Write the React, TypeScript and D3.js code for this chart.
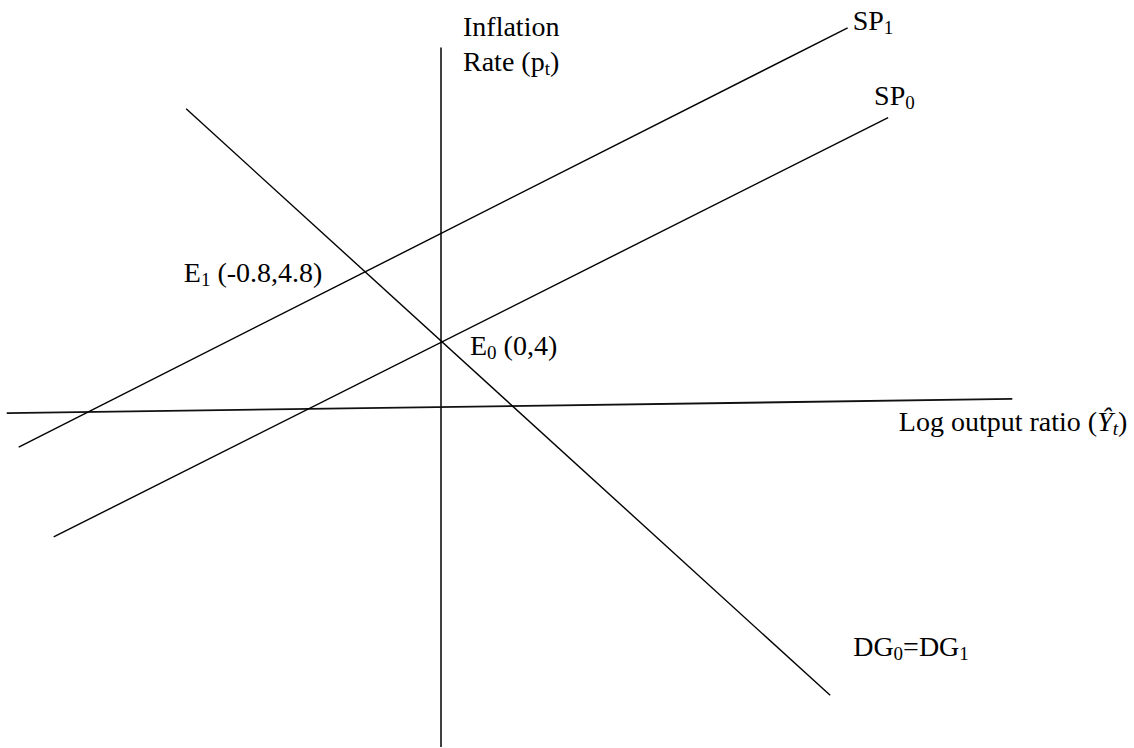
import * as d3 from 'd3';
import { useEffect, useRef } from 'react';

// Schematic SP / DG diagram, values in (log output ratio, inflation) units
const verticalAxis: [number, number][] = [[0, 7.31], [0, -0.55]];
const horizontalAxis: [number, number][] = [[-4.72, 3.2], [6.21, 3.36]];
const sp1Line: [number, number][] = [[-4.59, 2.82], [4.42, 7.53]];
const sp0Line: [number, number][] = [[-4.21, 1.81], [4.86, 6.52]];
const dgLine: [number, number][] = [[-2.77, 6.62], [4.23, 0.03]];
const e0Point: [number, number] = [0, 4];
const e1Point: [number, number] = [-0.8, 4.8];

const WIDTH = 1134;
const HEIGHT = 748;
const FONT = '"Liberation Serif", "Times New Roman", serif';

export default function App() {
  const svgRef = useRef<SVGSVGElement>(null);

  useEffect(() => {
    if (!svgRef.current) return;
    const svg = d3.select(svgRef.current);
    svg.selectAll('*').remove();

    const x = d3.scaleLinear().domain([-5, 7]).range([-19, 1085]);
    const y = d3.scaleLinear().domain([0, 8]).range([698, -14]);

    const line = d3
      .line<[number, number]>()
      .x((d) => x(d[0]))
      .y((d) => y(d[1]));

    // axes
    svg
      .append('path')
      .attr('d', line(verticalAxis))
      .attr('stroke', '#111')
      .attr('stroke-width', 1.6)
      .attr('fill', 'none');
    svg
      .append('path')
      .attr('d', line(horizontalAxis))
      .attr('stroke', '#111')
      .attr('stroke-width', 1.8)
      .attr('fill', 'none');

    // curves
    [sp1Line, sp0Line, dgLine].forEach((pts) => {
      svg
        .append('path')
        .attr('d', line(pts))
        .attr('stroke', '#000')
        .attr('stroke-width', 1.4)
        .attr('fill', 'none');
    });

    const g = svg.append('g').attr('font-family', FONT).attr('font-size', 28).attr('fill', '#000');

    // helper: label with main text + subscript pieces
    const addLabel = (
      px: number,
      py: number,
      parts: { t: string; sub?: boolean; italic?: boolean }[],
      anchor = 'start'
    ) => {
      const text = g.append('text').attr('x', px).attr('y', py).attr('text-anchor', anchor);
      let shifted = false;
      parts.forEach((p) => {
        const ts = text.append('tspan').text(p.t);
        if (p.sub && !shifted) {
          ts.attr('dy', 4).attr('font-size', 19);
          shifted = true;
        } else if (p.sub) {
          ts.attr('font-size', 19);
        } else if (shifted) {
          ts.attr('dy', -4);
          shifted = false;
        }
        if (p.italic) ts.attr('font-style', 'italic');
      });
      return text;
    };

    // vertical axis title
    const [vx, vy] = [x(verticalAxis[0][0]), y(verticalAxis[0][1])];
    addLabel(vx + 22, vy - 11, [{ t: 'Inflation' }]);
    addLabel(vx + 22, vy + 24, [{ t: 'Rate (p' }, { t: 't', sub: true }, { t: ')' }]);

    // horizontal axis title, right-aligned near the window edge
    const [hx, hy] = [x(horizontalAxis[1][0]), y(horizontalAxis[1][1])];
    addLabel(
      hx + 115,
      hy + 32,
      [{ t: 'Log output ratio (' }, { t: 'Ŷ', italic: true }, { t: 't', sub: true, italic: true }, { t: ')' }],
      'end'
    );

    // curve labels
    addLabel(x(sp1Line[1][0]) + 5, y(sp1Line[1][1]) + 2, [{ t: 'SP' }, { t: '1', sub: true }]);
    addLabel(x(sp0Line[1][0]) - 14, y(sp0Line[1][1]) - 13, [{ t: 'SP' }, { t: '0', sub: true }]);
    addLabel(x(dgLine[1][0]) + 23, y(dgLine[1][1]) - 39, [
      { t: 'DG' },
      { t: '0', sub: true },
      { t: '=DG' },
      { t: '1', sub: true },
    ]);

    // equilibrium labels
    addLabel(x(e0Point[0]) + 29, y(e0Point[1]) + 13, [{ t: 'E' }, { t: '0', sub: true }, { t: ' (0,4)' }]);
    addLabel(
      x(e1Point[0]) - 45,
      y(e1Point[1]) + 11,
      [{ t: 'E' }, { t: '1', sub: true }, { t: ' (-0.8,4.8)' }],
      'end'
    );
  }, []);

  return (
    <svg
      ref={svgRef}
      width={WIDTH}
      height={HEIGHT}
      style={{ position: 'absolute', left: 0, top: 0, background: '#fff', display: 'block' }}
    />
  );
}
